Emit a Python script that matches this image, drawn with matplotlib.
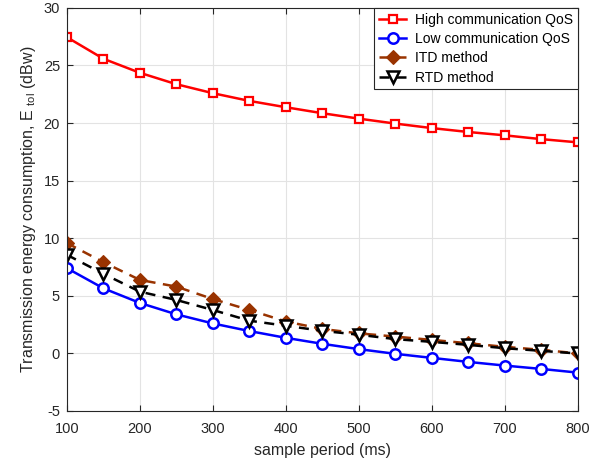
import numpy as np
import matplotlib
matplotlib.use("Agg")
import matplotlib.pyplot as plt

plt.rcParams["font.family"] = ["Liberation Sans", "DejaVu Sans"]
plt.rcParams["font.size"] = 10
plt.rcParams["axes.unicode_minus"] = False

# 数据
period = [100, 150, 200, 250, 300, 350, 400, 450, 500, 550, 600, 650, 700, 750, 800]
high_qos = [27.45, 25.58, 24.36, 23.37, 22.59, 21.92, 21.37, 20.85, 20.38, 19.95,
            19.56, 19.22, 18.93, 18.60, 18.32]
low_qos = [7.38, 5.63, 4.36, 3.37, 2.58, 1.92, 1.33, 0.81, 0.35, -0.06,
           -0.41, -0.76, -1.08, -1.37, -1.69]
itd = [9.56, 7.90, 6.36, 5.78, 4.70, 3.75, 2.75, 2.10, 1.72, 1.44,
       1.15, 0.86, 0.55, 0.29, -0.02]
rtd = [8.54, 6.89, 5.34, 4.62, 3.75, 2.82, 2.38, 1.94, 1.60, 1.22,
       0.98, 0.72, 0.43, 0.20, -0.03]

fig = plt.figure(figsize=(6.07, 4.67), dpi=100)
ax = fig.add_axes([0.1104, 0.1206, 0.8412, 0.8624])

ax.plot(period, high_qos, "-s", color="red", lw=1.8, ms=6, mew=1.6,
        mfc="white", mec="red", label="High communication QoS")
ax.plot(period, low_qos, "-o", color="blue", lw=1.8, ms=7.5, mew=1.8,
        mfc="white", mec="blue", label="Low communication QoS")
ax.plot(period, itd, "--D", color="#993300", lw=1.8, ms=7, mew=0.8,
        mfc="#993300", mec="#993300", label="ITD method", dashes=(4, 3))
ax.plot(period, rtd, "--v", color="black", lw=1.8, ms=8, mew=1.8,
        mfc="white", mec="black", label="RTD method", dashes=(4, 3))

ax.set_xlim(100, 800)
ax.set_ylim(-5, 30)
ax.set_xticks(np.arange(100, 801, 100))
ax.set_yticks(np.arange(-5, 31, 5))
ax.grid(True, color="#e3e3e3", lw=0.8)
ax.set_axisbelow(True)
ax.tick_params(direction="in", top=True, right=True, colors="#262626",
               length=4, labelsize=10.5)
ax.tick_params(axis="x", pad=8)
ax.tick_params(axis="y", pad=5)
for s in ax.spines.values():
    s.set_color("#262626")
    s.set_linewidth(0.8)

ax.set_xlabel("sample period (ms)", color="#262626", fontsize=11.5, labelpad=5)
ax.set_ylabel("Transmission energy consumption, E $_{\\mathregular{tol}}$ (dBw)",
              color="#262626", fontsize=11.5, labelpad=4)

# 图例
leg = ax.legend(loc="upper right", borderaxespad=0, fancybox=False,
                edgecolor="#262626", framealpha=1, handlelength=2.0,
                handletextpad=0.6, labelspacing=0.38, borderpad=0.35)
leg.get_frame().set_linewidth(0.8)

fig.savefig("out.png", dpi=100)
